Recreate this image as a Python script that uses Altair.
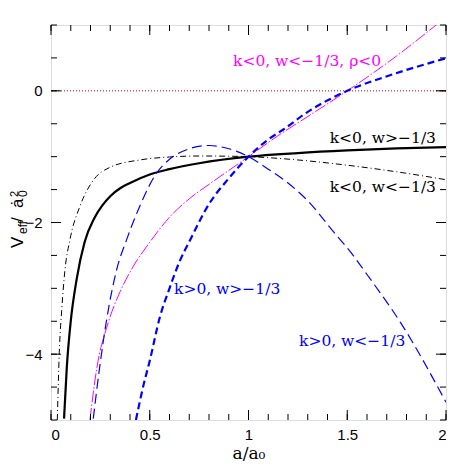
import altair as alt
import pandas as pd

# ---- data ----
a_kneg_wgt = [0.066, 0.08, 0.10, 0.13, 0.17, 0.22, 0.26, 0.30, 0.35, 0.40, 0.50, 0.60, 0.75, 1.0, 1.25, 1.5, 1.75, 2.0]
v_kneg_wgt = [-4.98, -4.2, -3.5, -2.86, -2.30, -1.93, -1.74, -1.60, -1.48, -1.40, -1.27, -1.19, -1.10, -1.0, -0.945, -0.905, -0.875, -0.855]

a_kneg_wlt = [0.032, 0.042, 0.055, 0.07, 0.096, 0.147, 0.214, 0.30, 0.45, 0.6, 0.75, 0.9, 1.0, 1.25, 1.5, 1.75, 2.0]
v_kneg_wlt = [-5.0, -3.97, -3.3, -2.74, -2.26, -1.75, -1.36, -1.16, -1.05, -1.005, -0.99, -0.993, -1.0, -1.05, -1.13, -1.23, -1.35]

a_kpos_wlt = [0.214, 0.245, 0.282, 0.333, 0.383, 0.45, 0.53, 0.6, 0.7, 0.8, 0.9, 1.0, 1.1, 1.2, 1.3, 1.43, 1.53, 1.6, 1.77, 2.0]
v_kpos_wlt = [-4.98, -4.23, -3.47, -2.71, -2.26, -1.75, -1.27, -1.04, -0.88, -0.83, -0.88, -1.0, -1.19, -1.40, -1.67, -2.14, -2.50, -2.79, -3.52, -4.73]

a_kpos_wgt = [0.43, 0.47, 0.5, 0.55, 0.6, 0.65, 0.707, 0.8, 0.9, 1.0, 1.1, 1.18, 1.3, 1.5, 1.72, 2.0]
v_kpos_wgt = [-5.0, -4.45, -4.1, -3.45, -3.0, -2.6, -2.25, -1.72, -1.33, -1.0, -0.74, -0.58, -0.32, 0.0, 0.24, 0.495]

a_rho_neg = [0.197, 0.231, 0.29, 0.35, 0.408, 0.5, 0.6, 0.7, 0.8, 0.9, 1.0, 1.16, 1.3, 1.5, 1.75, 1.95, 2.0]
v_rho_neg = [-5.0, -4.23, -3.52, -3.05, -2.71, -2.30, -1.92, -1.64, -1.42, -1.21, -1.0, -0.66, -0.39, 0.0, 0.53, 1.0, 1.12]

zero_line = [0.0]

x_major = [0, 0.5, 1, 1.5, 2]
x_minor = [i / 10 for i in range(21)]
y_major = [0, -2, -4]
y_minor = [1 - i * 0.5 for i in range(13)]

labels = {
    "rho": "k<0,  w<\u22121/3,  \u03c1<0",
    "kneg_wgt": "k<0,  w>\u22121/3",
    "kneg_wlt": "k<0,  w<\u22121/3",
    "kpos_wgt": "k>0,  w>\u22121/3",
    "kpos_wlt": "k>0,  w<\u22121/3",
}

W = H = 395
xs = alt.Scale(domain=[0, 2], nice=False, zero=False)
ys = alt.Scale(domain=[-5, 1], nice=False, zero=False)
SERIF = "DejaVu Serif"
SANS = "Liberation Sans"


def frame(a, v):
    return pd.DataFrame({"a": a, "v": v})


def line(a, v, color, width, dash=None):
    kw = dict(color=color, strokeWidth=width, interpolate="monotone", clip=True)
    if dash:
        kw["strokeDash"] = dash
    return alt.Chart(frame(a, v)).mark_line(**kw).encode(
        x=alt.X("a:Q", scale=xs, axis=None),
        y=alt.Y("v:Q", scale=ys, axis=None),
    )


lines = [
    line(a_kneg_wlt, v_kneg_wlt, "black", 1, [6, 3, 1, 3]),
    line(a_kneg_wgt, v_kneg_wgt, "black", 2.2),
    line(a_rho_neg, v_rho_neg, "#ff00ff", 1, [12, 2, 1.5, 2]),
    line(a_kpos_wlt, v_kpos_wlt, "#0000ff", 1.2, [10, 5]),
    line(a_kpos_wgt, v_kpos_wgt, "#0000ff", 2.2, [7, 4]),
]

rule = alt.Chart(pd.DataFrame({"v": zero_line})).mark_rule(
    color="#c00000", strokeWidth=1, strokeDash=[1, 2]
).encode(y=alt.Y("v:Q", scale=ys, axis=None))


# inward ticks on all four sides, drawn from the tick-value lists
def xticks(values, length):
    df = pd.DataFrame({"t": values})
    top = alt.Chart(df).mark_rule(color="black", strokeWidth=1).encode(
        x=alt.X("t:Q", scale=xs, axis=None), y=alt.value(0), y2=alt.value(length))
    bot = alt.Chart(df).mark_rule(color="black", strokeWidth=1).encode(
        x=alt.X("t:Q", scale=xs, axis=None), y=alt.value(H - length), y2=alt.value(H))
    return [top, bot]


def yticks(values, length):
    df = pd.DataFrame({"t": values})
    left = alt.Chart(df).mark_rule(color="black", strokeWidth=1).encode(
        y=alt.Y("t:Q", scale=ys, axis=None), x=alt.value(0), x2=alt.value(length))
    right = alt.Chart(df).mark_rule(color="black", strokeWidth=1).encode(
        y=alt.Y("t:Q", scale=ys, axis=None), x=alt.value(W - length), x2=alt.value(W))
    return [left, right]


tick_layers = xticks(x_minor, 6) + xticks(x_major, 10) + yticks(y_minor, 6) + yticks(y_major, 10)

base_df = frame(a_kneg_wgt, v_kneg_wgt)
label_layer = alt.Chart(base_df).mark_point(opacity=0, size=1).encode(
    x=alt.X("a:Q", scale=xs, axis=alt.Axis(
        orient="bottom", values=x_major, format="~g", ticks=False, domain=False, grid=False,
        labelFont=SANS, labelFontSize=15, labelPadding=7, labelColor="black",
        title="a/a\u2080", titleFont=SERIF, titleFontSize=17, titleFontWeight="normal",
        titlePadding=3, titleColor="black")),
    y=alt.Y("v:Q", scale=ys, axis=alt.Axis(
        orient="left", values=y_major, format="~g", ticks=False, domain=False, grid=False,
        labelFont=SANS, labelFontSize=15, labelPadding=9, labelColor="black", title=None)),
)


def text(t, x, y, color, align):
    return alt.Chart(pd.DataFrame({"t": [t]})).mark_text(
        font=SERIF, fontSize=15.5, color=color, align=align, baseline="middle"
    ).encode(text="t:N", x=alt.value(x), y=alt.value(y))


texts = [
    text(labels["rho"], 182, 36, "#ff00ff", "left"),
    text(labels["kneg_wgt"], 385, 113, "black", "right"),
    text(labels["kneg_wlt"], 385, 162, "black", "right"),
    text(labels["kpos_wgt"], 123, 264, "#0000ff", "left"),
    text(labels["kpos_wlt"], 248, 316, "#0000ff", "left"),
]


def ytitle(t, x, y, size):
    return alt.Chart(pd.DataFrame({"t": [t]})).mark_text(
        font=SANS, fontSize=size, color="black", align="left", baseline="alphabetic", angle=270
    ).encode(text="t:N", x=alt.value(x), y=alt.value(y))


ytitles = [
    ytitle("V", -28, 223, 17),
    ytitle("eff", -24, 209, 12),
    ytitle("/", -28, 197, 17),
    ytitle("\u0227", -28, 183, 17),
    ytitle("0", -24, 172, 12),
    ytitle("2", -33, 172, 11),
]

chart = alt.layer(
    rule, *lines, *tick_layers, *texts, *ytitles, label_layer
).resolve_axis(x="independent", y="independent").properties(
    width=W, height=H,
    autosize=alt.AutoSizeParams(type="none"),
    padding={"left": 43, "top": 17, "right": 17, "bottom": 43},
).configure_view(stroke="black", strokeWidth=1.5).configure(background="white")

chart.save("out.html", embed_options={"renderer": "svg", "actions": False})
